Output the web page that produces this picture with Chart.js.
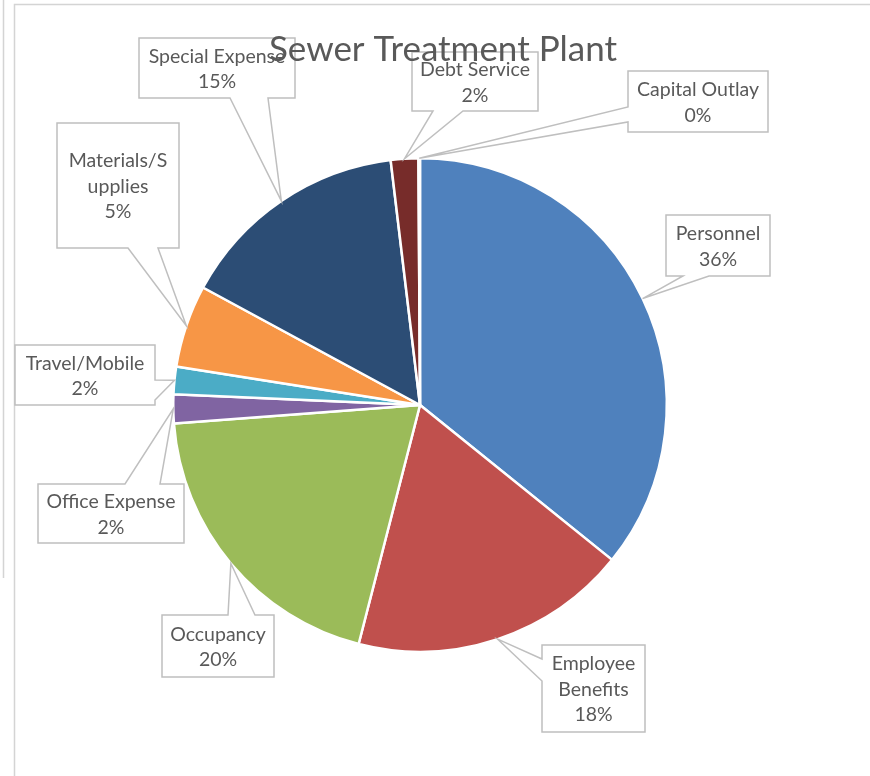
<!DOCTYPE html>
<html>
<head>
<meta charset="utf-8">
<script src="https://cdn.jsdelivr.net/npm/chart.js@4"></script>
<style>
  body { margin: 0; background: #fff; }
</style>
</head>
<body>
<canvas id="myChart" width="870" height="776"></canvas>
<script>
// Daten
const categories = ["Personnel", "Employee Benefits", "Occupancy", "Office Expense", "Travel/Mobile",
    "Materials/Supplies", "Special Expense", "Debt Service", "Capital Outlay"];
const values = [35.8, 18.2, 19.8, 1.9, 1.8, 5.4, 15.2, 1.8, 0.1];
// Text in den Beschriftungen (wie im Original umgebrochen)
const labelLines = [["Personnel"], ["Employee", "Benefits"], ["Occupancy"], ["Office Expense"], ["Travel/Mobile"],
    ["Materials/S", "upplies"], ["Special Expense"], ["Debt Service"], ["Capital Outlay"]];
const colors = ["#4F81BD", "#C0504D", "#9BBB59", "#8064A2", "#4BACC6", "#F79646", "#2C4D75", "#772C2A", "#5F7530"];

// Lage der Beschriftungskaesten (Layout)
const boxes = [
    {x: 666, y: 215, w: 104, h: 61, side: "bottom", a: 683, b: 709},
    {x: 542, y: 645, w: 103, h: 87, side: "left", a: 659, b: 681},
    {x: 162, y: 615, w: 112, h: 62, side: "top", a: 228, b: 255},
    {x: 38, y: 484, w: 146, h: 59, side: "top", a: 125, b: 160},
    {x: 15, y: 345, w: 140, h: 60, side: "right", a: 380, b: 400},
    {x: 57, y: 123, w: 122, h: 125, side: "bottom", a: 128, b: 158},
    {x: 139, y: 38, w: 156, h: 60, side: "bottom", a: 230, b: 268},
    {x: 412, y: 52, w: 126, h: 59, side: "bottom", a: 433, b: 463},
    {x: 628, y: 71, w: 140, h: 61, side: "left", a: 107, b: 122}
];

const total = values.reduce((s, v) => s + v, 0);

// Rahmen im Hintergrund
const framePlugin = {
    id: "frame",
    beforeDraw(chart) {
        const ctx = chart.ctx;
        ctx.save();
        ctx.strokeStyle = "#d4d4d4";
        ctx.lineWidth = 1.5;
        ctx.beginPath();
        ctx.moveTo(3.5, 0); ctx.lineTo(3.5, 578);
        ctx.moveTo(14.5, 776); ctx.lineTo(14.5, 4.5); ctx.lineTo(870, 4.5);
        ctx.stroke();
        ctx.restore();
    }
};

// Beschriftungen mit Zeiger + Titel
const calloutPlugin = {
    id: "callouts",
    afterDraw(chart) {
        const ctx = chart.ctx;
        const arcs = chart.getDatasetMeta(0).data;
        ctx.save();
        arcs.forEach((arc, i) => {
            const p = arc.getProps(["x", "y", "startAngle", "endAngle", "outerRadius"], true);
            const mid = (p.startAngle + p.endAngle) / 2;
            const tx = p.x + Math.cos(mid) * p.outerRadius;
            const ty = p.y + Math.sin(mid) * p.outerRadius;
            const b = boxes[i];
            const x0 = b.x, y0 = b.y, x1 = b.x + b.w, y1 = b.y + b.h;
            ctx.beginPath();
            ctx.moveTo(x0, y0);
            if (b.side === "top") { ctx.lineTo(b.a, y0); ctx.lineTo(tx, ty); ctx.lineTo(b.b, y0); }
            ctx.lineTo(x1, y0);
            if (b.side === "right") { ctx.lineTo(x1, b.a); ctx.lineTo(tx, ty); ctx.lineTo(x1, b.b); }
            ctx.lineTo(x1, y1);
            if (b.side === "bottom") { ctx.lineTo(b.b, y1); ctx.lineTo(tx, ty); ctx.lineTo(b.a, y1); }
            ctx.lineTo(x0, y1);
            if (b.side === "left") { ctx.lineTo(x0, b.b); ctx.lineTo(tx, ty); ctx.lineTo(x0, b.a); }
            ctx.closePath();
            ctx.fillStyle = "#ffffff";
            ctx.fill();
            ctx.strokeStyle = "#bfbfbf";
            ctx.lineWidth = 1.5;
            ctx.lineJoin = "miter";
            ctx.stroke();

            const lines = labelLines[i].concat([Math.round(values[i] / total * 100) + "%"]);
            const lh = 25.5;
            ctx.fillStyle = "#595959";
            ctx.font = "19.5px Lato";
            ctx.textAlign = "center";
            ctx.textBaseline = "middle";
            const cy = b.y + b.h / 2 - (lines.length - 1) * lh / 2 + 1;
            lines.forEach((t, k) => ctx.fillText(t, b.x + b.w / 2, cy + k * lh));
        });
        // Titel liegt oben drauf
        ctx.fillStyle = "#595959";
        ctx.font = "35px Lato";
        ctx.textAlign = "center";
        ctx.textBaseline = "alphabetic";
        ctx.fillText("Sewer Treatment Plant", 443, 61);
        ctx.restore();
    }
};

const ctx = document.getElementById("myChart").getContext("2d");
new Chart(ctx, {
    type: "pie",
    data: {
        labels: categories,
        datasets: [{
            data: values,
            backgroundColor: colors,
            borderColor: "#ffffff",
            borderWidth: 2.5
        }]
    },
    options: {
        responsive: false,
        animation: false,
        layout: {
            padding: {top: 156, bottom: 122, left: 172, right: 202}
        },
        plugins: {
            legend: {display: false},
            tooltip: {enabled: false},
            title: {display: false}
        }
    },
    plugins: [framePlugin, calloutPlugin]
});
</script>
</body>
</html>
